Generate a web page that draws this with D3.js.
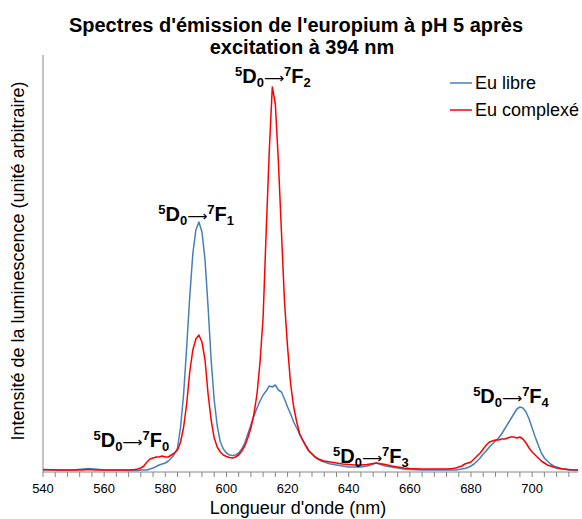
<!DOCTYPE html>
<html>
<head>
<meta charset="utf-8">
<script src="https://cdn.jsdelivr.net/npm/d3@7"></script>
<style>
  html, body { margin: 0; padding: 0; background: #fff; }
  svg { display: block; font-family: "Liberation Sans", Arial, sans-serif; }
</style>
</head>
<body>
<svg id="chart" width="582" height="519"></svg>
<script>
// Emission spectra of europium at pH 5 (excitation 394 nm), arbitrary intensity units
const wavelengths = [540,545,550,553,555,557,560,565,568,570,
  571,572,573,574,575,576,577,578,579,580,581,582,583,584,585,586,587,588,589,590,
  591,592,593,594,595,596,597,598,599,600,601,602,603,604,605,606,607,608,609,610,
  611,612,613,614,615,616,617,618,619,620,621,622,623,624,625,626,627,628,629,630,
  631,632,634,636,638,640,642,644,646,648,649,650,652,654,656,658,660,664,668,672,
  674,675,676,677,678,679,680,681,682,683,684,685,686,687,688,689,690,691,692,693,
  694,695,696,697,698,699,700,701,702,703,704,705,706,707,708,709,710,711,712,714,715];

const euLibre = [2,2,2,3,3.5,3,2,2,1.5,1.5,
  1.5,2,2,2,3,4,5.5,7,8,9,11,14,18,24,45,78,125,175,218,242,
  250,240,212,165,112,72,46,30,23,19,17,16.5,17,19,23,29,38,47,56,64,
  71,77,81,86,85,87,82,80,73,65,58,50,44,37,31,26,21,18,15,13,
  11,10,8,7,6,5,5,5,6,8,9,8,6,5,4,3,2.5,2,2,2,
  2,2,2.5,3,3.5,4.5,6,8,11,14,18,21,25,28,31,34,38,43,48,53,
  58,63,65,64,60,53,44,35,27,19,14,11,8,6,5,4,3,2.5,2,2,2];

const euComplexe = [2.5,2,2,2,2.5,2,2,2,2,2.5,
  3,4,6,10,13,14,15,15,16,15,15,17,19,22,30,45,68,100,122,133,
  137,130,112,78,52,34,25,20,17,15.5,14.5,14,15,17,21,26,34,44,58,78,
  110,155,240,320,385,368,310,240,170,125,88,65,50,38,32,26,21,18,15,13,
  12,11,10,9,8,7.5,7,7,7.5,8.5,9,8.5,7.5,6,5,4,3.5,3,3,3,
  3.5,4,5,6,8,9,10,13,16,19,23,27,30,31,32,32,33,33,34,35,
  35,34,35,33,29,24,20,17,14,11,9,7,6,5,4,3.5,3,3,2.5,2,2];

const seriesNames = ["Eu libre", "Eu complexé"];
const seriesColors = ["#4A7EBB", "#FF0000"];
const xTickValues = [540,560,580,600,620,640,660,680,700];

// Transition labels: [sup, main, sub, sup, main, sub] and anchor wavelength/intensity
const transitions = [
  { parts: ["5","D","0","7","F","0"], wl: 556.5, val: 25 },
  { parts: ["5","D","0","7","F","1"], wl: 577.7, val: 251 },
  { parts: ["5","D","0","7","F","2"], wl: 602.8, val: 389 },
  { parts: ["5","D","0","7","F","3"], wl: 634.9, val: 9 },
  { parts: ["5","D","0","7","F","4"], wl: 680.7, val: 69 }
];

const svg = d3.select("#chart");
const margin = { left: 43, right: 4, top: 55, bottom: 47 };
const W = 582, H = 519;

const x = d3.scaleLinear().domain([540, 715]).range([margin.left, W - margin.right]);
const y = d3.scaleLinear().domain([0, 417]).range([H - margin.bottom, margin.top]);

// Title
const title = svg.append("text")
  .attr("y", 32)
  .attr("text-anchor", "middle")
  .style("font-size", "20px").style("font-weight", "bold").attr("fill", "#000");
title.append("tspan").attr("x", 296).text("Spectres d'émission de l'europium à pH 5 après");
title.append("tspan").attr("x", 302).attr("dy", 22).text("excitation à 394 nm");

// X axis with minor ticks every 4 nm
const xAxisG = svg.append("g").attr("transform", `translate(0,${y(0)})`);
xAxisG.append("line")
  .attr("x1", x(540)).attr("x2", x(715))
  .attr("stroke", "#868686").attr("stroke-width", 1);
xAxisG.selectAll("line.tick")
  .data(d3.range(540, 715, 4))
  .join("line").attr("class", "tick")
  .attr("x1", d => x(d)).attr("x2", d => x(d))
  .attr("y1", 0).attr("y2", 5)
  .attr("stroke", "#868686").attr("stroke-width", 1);
xAxisG.selectAll("text.lbl")
  .data(xTickValues)
  .join("text").attr("class", "lbl")
  .attr("x", d => x(d)).attr("y", 21)
  .attr("text-anchor", "middle")
  .style("font-size", "13px").attr("fill", "#000")
  .text(d => d);

// Y axis line (no ticks)
svg.append("line")
  .attr("x1", x(540)).attr("x2", x(540))
  .attr("y1", y(417)).attr("y2", y(0))
  .attr("stroke", "#868686").attr("stroke-width", 1);

// Axis titles
svg.append("text")
  .attr("x", 298).attr("y", 514)
  .attr("text-anchor", "middle")
  .style("font-size", "18px").attr("fill", "#000")
  .text("Longueur d'onde (nm)");
svg.append("text")
  .attr("transform", "translate(24,261) rotate(-90)")
  .attr("text-anchor", "middle")
  .style("font-size", "18px").attr("fill", "#000")
  .text("Intensité de la luminescence (unité arbitraire)");

// Spectra
const line = d3.line().x(d => x(d[0])).y(d => y(d[1]));
const series = [euLibre, euComplexe];
series.forEach((vals, i) => {
  svg.append("path")
    .datum(wavelengths.map((w, k) => [w, vals[k]]))
    .attr("d", line)
    .attr("fill", "none")
    .attr("stroke", seriesColors[i])
    .attr("stroke-width", 1.5)
    .attr("stroke-linejoin", "round");
});

// Legend
const legend = svg.append("g");
seriesNames.forEach((name, i) => {
  const ly = 83 + i * 27;
  legend.append("line")
    .attr("x1", 450).attr("x2", 472).attr("y1", ly).attr("y2", ly)
    .attr("stroke", seriesColors[i]).attr("stroke-width", 1.5);
  legend.append("text")
    .attr("x", 475).attr("y", ly + 6)
    .style("font-size", "18px").attr("fill", "#000")
    .text(name);
});

// Transition labels
transitions.forEach(t => {
  const tx = svg.append("text")
    .attr("x", x(t.wl)).attr("y", y(t.val))
    .style("font-weight", "bold").style("font-size", "20px").attr("fill", "#000");
  const [s1, m1, b1, s2, m2, b2] = t.parts;
  tx.append("tspan").attr("dy", -7).style("font-size", "13px").text(s1);
  tx.append("tspan").attr("dy", 7).text(m1);
  tx.append("tspan").attr("dy", 4).style("font-size", "13px").text(b1);
  tx.append("tspan").attr("dy", -4)
    .style("font-family", "'DejaVu Sans'")
    .style("font-weight", "normal").style("font-size", "14px")
    .text("⟶");
  tx.append("tspan").attr("dy", -7).style("font-size", "13px").text(s2);
  tx.append("tspan").attr("dy", 7).text(m2);
  tx.append("tspan").attr("dy", 4).style("font-size", "13px").text(b2);
});
</script>
</body>
</html>
